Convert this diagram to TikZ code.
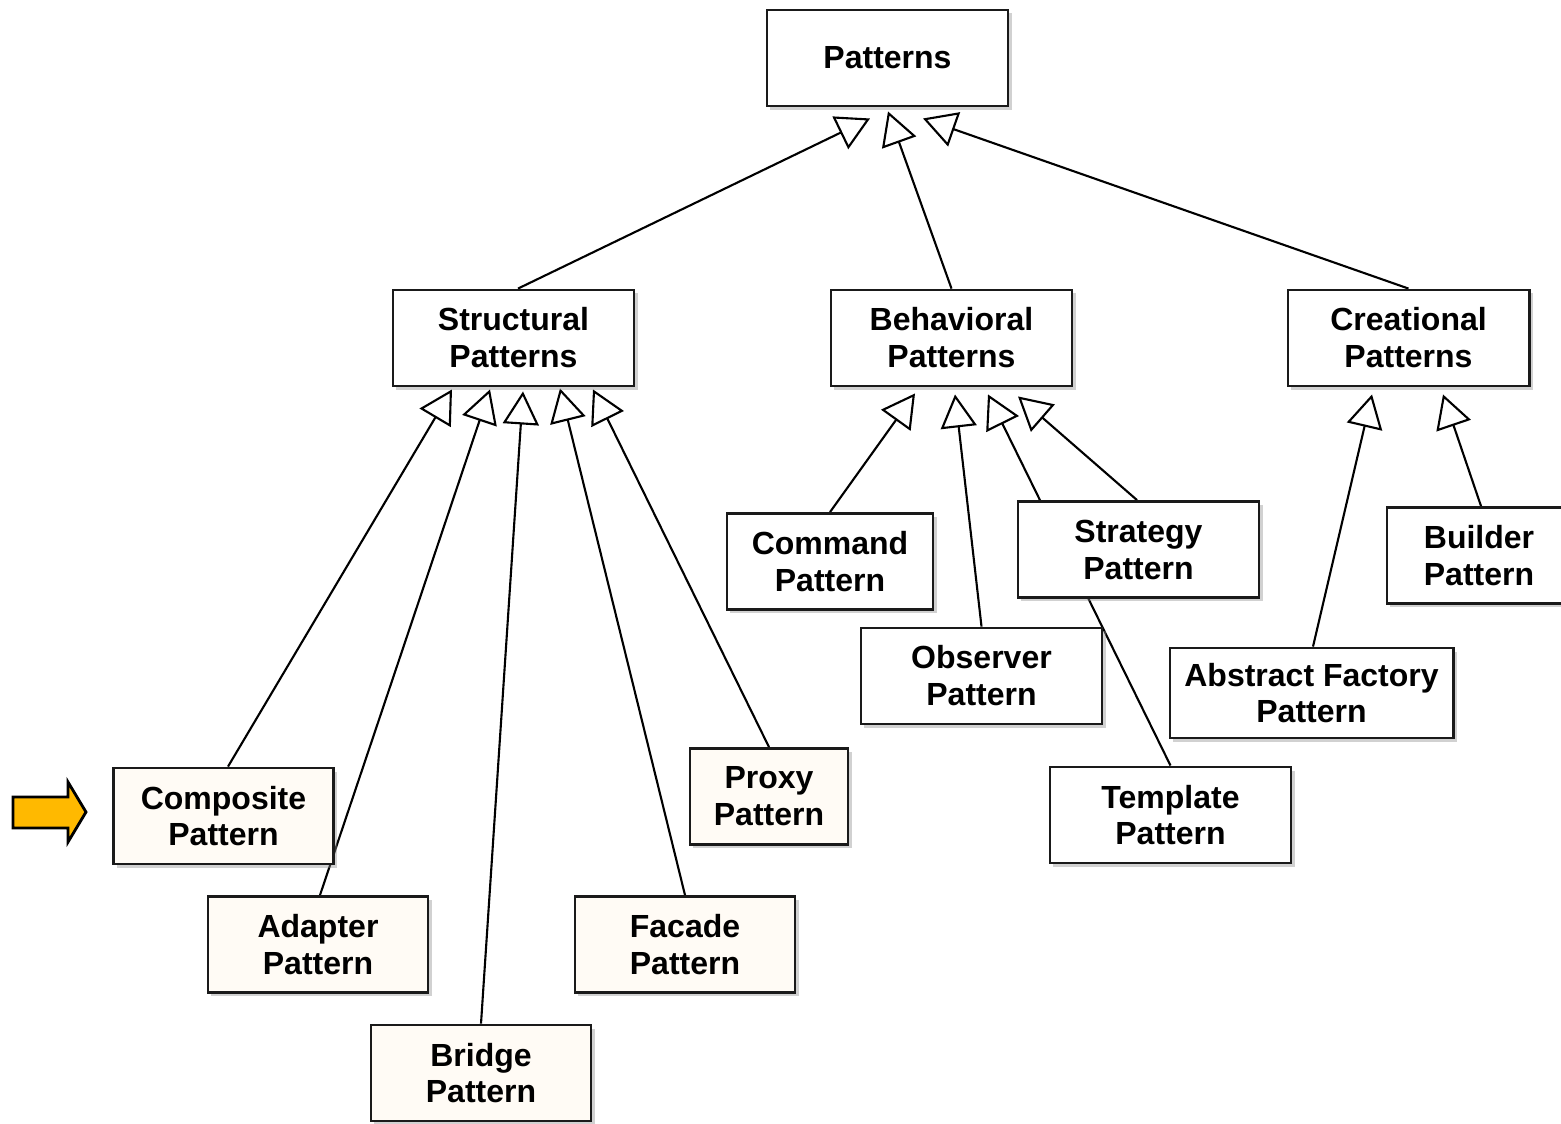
\documentclass[tikz,border=0pt]{standalone}
\usepackage{fontspec}
\setmainfont{Liberation Sans}
\usepackage{tikz}
\usetikzlibrary{
  arrows.meta,
  positioning,
  calc,
  backgrounds,
  shadows
}
\definecolor{boxline}{HTML}{1A1A1A}
\definecolor{leafbg}{HTML}{FFFBF5}
\definecolor{markyellow}{HTML}{FFB900}

\begin{document}
\begin{tikzpicture}[
  x=0.01cm, y=-0.01cm,
  pbox/.style={
    draw=boxline, line width=0.8pt, fill=white,
    align=center, inner sep=0pt,
    minimum width=2.41cm, minimum height=0.96cm,
    font=\bfseries\fontsize{9.1}{10.5}\selectfont,
    drop shadow={shadow xshift=0.35mm, shadow yshift=-0.35mm,
      fill=black!45, opacity=0.4}
  },
  leafbox/.style={pbox, fill=leafbg, minimum width=2.2cm},
  gen/.style={
    line width=0.6pt,
    -{Triangle[open, length=3.3mm, width=3.6mm, line width=0.6pt]}
  }
]
\useasboundingbox (0,0) rectangle (1561,1123);

% ---- Top ----
\node[pbox] (pat) at (887.5,58) {Patterns};

% ---- Categories ----
\node[pbox] (str) at (513.5,338) {Structural\\Patterns};
\node[pbox] (beh) at (951.5,338) {Behavioral\\Patterns};
\node[pbox] (cre) at (1408.5,338) {Creational\\Patterns};

% ---- Structural patterns ----
\node[leafbox] (cmp) at (223.5,816) {Composite\\Pattern};
\node[leafbox] (adp) at (318,944.5) {Adapter\\Pattern};
\node[leafbox] (brg) at (481,1073) {Bridge\\Pattern};
\node[leafbox] (fac) at (685,944.5) {Facade\\Pattern};
\node[leafbox, minimum width=1.58cm] (prx) at (769,796.5) {Proxy\\Pattern};

% ---- Behavioral patterns ----
\node[pbox, minimum width=2.06cm] (cmd) at (830,561.5) {Command\\Pattern};
\node[pbox] (stg) at (1138.5,549.5) {Strategy\\Pattern};
\node[pbox] (obs) at (981.5,676) {Observer\\Pattern};
\node[pbox] (tpl) at (1170.5,815) {Template\\Pattern};

% ---- Creational patterns ----
\node[pbox, minimum width=2.83cm, minimum height=0.9cm] (abf) at (1311.5,693) {Abstract Factory\\Pattern};
\node[pbox, minimum width=1.84cm] (bld) at (1479,555.5) {Builder\\Pattern};

% Generalisation links (behind the boxes)
\begin{scope}[on background layer]
  \draw[gen] ($(str.north)+(4.5,0)$) -- ($(pat.south)+(-17.5,11)$);
  \draw[gen] (beh.north) -- ($(pat.south)+(0.5,4)$);
  \draw[gen] (cre.north) -- ($(pat.south)+(35.5,11)$);

  \draw[gen] ($(cmp.north)+(4.5,0)$) -- ($(str.south)+(-61.5,2)$);
  \draw[gen] ($(adp.north)+(2,0)$) -- ($(str.south)+(-23.5,2)$);
  \draw[gen] (brg.north) -- ($(str.south)+(9.5,4)$);
  \draw[gen] (fac.north) -- ($(str.south)+(46.5,1)$);
  \draw[gen] (prx.north) -- ($(str.south)+(79.5,2)$);

  \draw[gen] (cmd.north) -- ($(beh.south)+(-36.5,6)$);
  \draw[gen] (obs.north) -- ($(beh.south)+(3.5,7)$);
  \draw[gen] (tpl.north) -- ($(beh.south)+(36.5,7)$);
  \draw[gen] ($(stg.north)+(-1.5,0)$) -- ($(beh.south)+(66.5,9)$);

  \draw[gen] ($(abf.north)+(1.5,0)$) -- ($(cre.south)+(-36.5,7)$);
  \draw[gen] ($(bld.north)+(2,0)$) -- ($(cre.south)+(34.5,7)$);
\end{scope}

% Marker arrow
\draw[line width=0.8pt, fill=markyellow, line join=miter]
  (13,797) -- (68,797) -- (68,782) -- (86,812) -- (68,842) -- (68,828) -- (13,828) -- cycle;

\end{tikzpicture}
\end{document}
